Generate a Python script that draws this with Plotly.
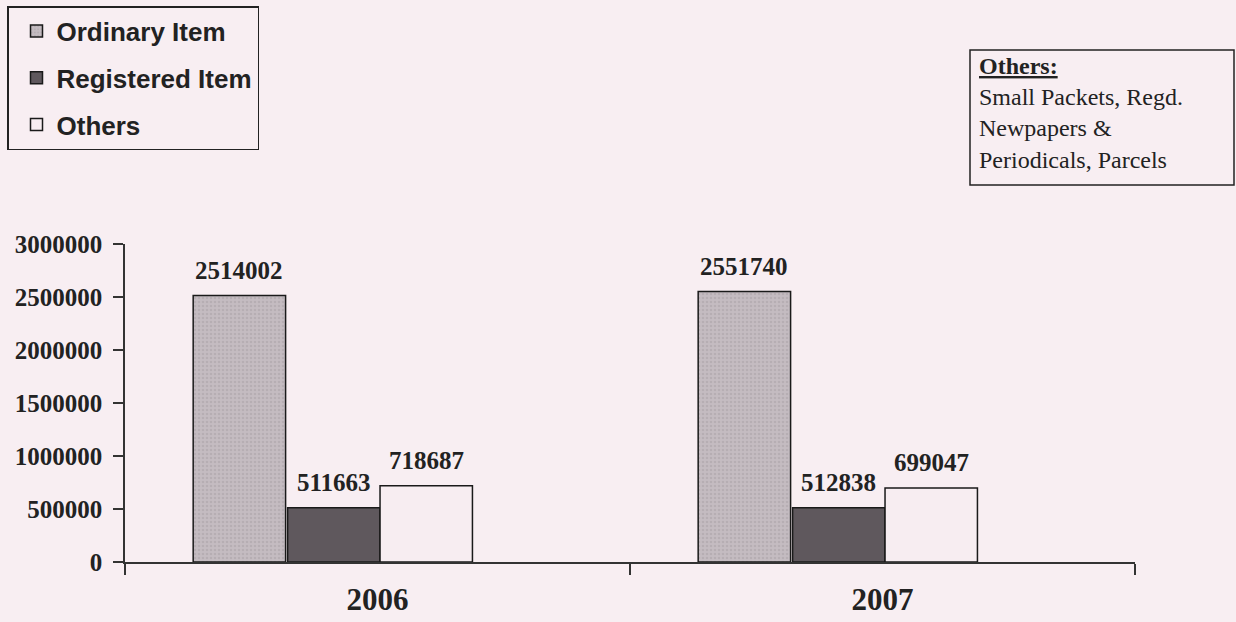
import plotly.graph_objects as go

years = ["2006", "2007"]
series_names = ["Ordinary Item", "Registered Item", "Others"]
ordinary = [2514002, 2551740]
registered = [511663, 512838]
others = [718687, 699047]
y_ticks = [0, 500000, 1000000, 1500000, 2000000, 2500000, 3000000]

values = [ordinary, registered, others]
BG = "#f8eef2"
fills = ["#c4bcc1", "#5f585d", "#f7edf1"]
offsets = [-0.365, -0.178, 0.005]
bar_w = 0.183
serif = "Liberation Serif, Times New Roman, serif"
sans = "Liberation Sans, Arial, sans-serif"

centers = [i + 0.5 for i in range(len(years))]

fig = go.Figure()
for k, name in enumerate(series_names):
    marker = dict(color=fills[k], line=dict(color="#1a1a1a", width=1.5))
    if k == 0:
        marker["pattern"] = dict(shape=".", bgcolor=fills[k], fgcolor="#a8a0a5", size=4, solidity=0.35)
    fig.add_trace(go.Bar(
        x=centers, y=values[k], name=name, width=bar_w, offset=offsets[k],
        marker=marker, legendgroup=name, showlegend=True,
    ))

annotations = []
for k in range(len(series_names)):
    for i, c in enumerate(centers):
        annotations.append(dict(
            x=c + offsets[k] + bar_w / 2, y=values[k][i], xref="x", yref="y",
            text=f"<b>{values[k][i]}</b>", showarrow=False, yanchor="bottom", yshift=10,
            font=dict(family=serif, size=25, color="#222222"),
        ))

annotations.append(dict(
    xref="paper", yref="paper", x=(977 - 125) / 1010, y=(562 - 51) / 318,
    xanchor="left", yanchor="top", align="left", showarrow=False,
    text="<b><u>Others:</u></b><br>Small Packets, Regd.<br>Newpapers &amp;<br>Periodicals, Parcels",
    font=dict(family=serif, size=24, color="#222222"),
))

fig.update_layout(
    width=1236, height=622,
    margin=dict(l=125, r=101, t=244, b=60, autoexpand=False),
    paper_bgcolor=BG, plot_bgcolor=BG,
    barmode="overlay",
    showlegend=True,
    legend=dict(
        xref="container", yref="container", x=7 / 1236, y=1 - 6 / 622,
        xanchor="left", yanchor="top",
        bgcolor=BG, bordercolor="#222222", borderwidth=1.5,
        font=dict(family=sans, size=26, color="#222222", weight="bold"),
        traceorder="grouped", tracegroupgap=10, itemwidth=30, indentation=8,
    ),
    annotations=annotations,
    shapes=[dict(type="rect", xref="paper", yref="paper",
                 x0=(970 - 125) / 1010, x1=(1234 - 125) / 1010,
                 y0=(562 - 50) / 318, y1=(562 - 185) / 318,
                 line=dict(color="#222222", width=1.5), fillcolor="rgba(0,0,0,0)")],
)

fig.update_xaxes(
    range=[0, len(years)], tickvals=centers, ticktext=years,
    ticks="", showgrid=False, zeroline=False,
    showline=True, linecolor="#333333", linewidth=1.5,
    tickfont=dict(family=serif, size=31, color="#222222", weight="bold"),
    ticklabelstandoff=9,
    minor=dict(tick0=0, dtick=1, ticks="outside", ticklen=11, tickcolor="#333333", tickwidth=1.5, showgrid=False),
)
fig.update_yaxes(
    range=[0, 3000000], tickvals=y_ticks, tickformat="d",
    ticks="outside", ticklen=10, tickcolor="#333333", tickwidth=1.5,
    showgrid=False, zeroline=False,
    showline=True, linecolor="#333333", linewidth=1.5,
    tickfont=dict(family=serif, size=25, color="#222222", weight="bold"),
    ticklabelstandoff=6,
)

fig.write_html(
    "out.html",
    config={"displayModeBar": False},
    post_script="document.body.style.margin='0';document.body.style.background='%s';" % BG,
)
